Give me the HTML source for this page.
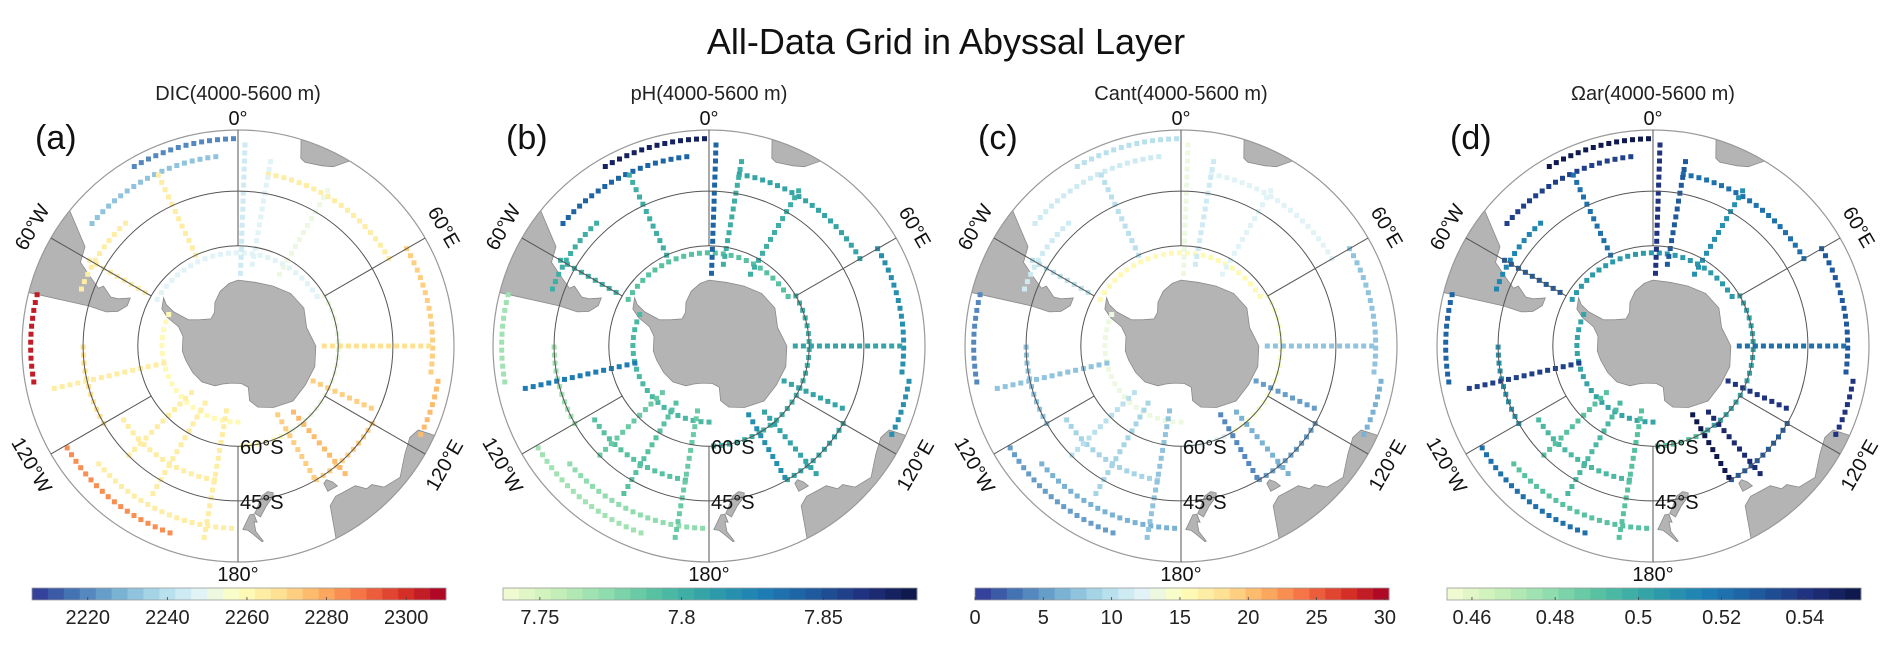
<!DOCTYPE html>
<html><head><meta charset="utf-8"><style>
html,body{margin:0;padding:0;background:#fff;}
svg{display:block;font-family:"Liberation Sans",Arial,sans-serif;}
</style></head><body>
<svg id="fig" width="1892" height="647" viewBox="0 0 1892 647" xmlns="http://www.w3.org/2000/svg">
<text x="946" y="54" text-anchor="middle" font-size="36" fill="#111">All-Data Grid in Abyssal Layer</text>
</svg>
<script>
// ---- shared track geometry (lat, lon1, lon2) and (lon, lat1, lat2) ----
const arcTracks = [[-32,-30,0],[-36,-50,-5],[-42,-70,-40],[-40,10,60],[-35,60,100],[-60,60,150],[-62,-60,60],[-33,100,118],[-32,-100,-75],[-34,-160,-120],[-38,-178,-130],[-50,-170,-120],[-67,-180,-60],[-45,-120,-90],[-45,120,150],[-60,150,180]];
const merTracks = [[-25,-60,-35],[2,-68,-32],[10,-65,-35],[30,-65,-38],[90,-64,-35],[140,-64,-40],[-150,-70,-40],[-170,-70,-35],[-103,-67,-35],[115,-65,-45],[-60,-58,-40],[150,-66,-45],[-135,-70,-45]];
// ---- panel values ----
const dicArc = [2218,2232,2262,2262,2270,2250,2247,2275,2305,2285,2265,2262,2260,2268,2272,2258];
const dicMer = [2262,2245,2248,2250,2268,2275,2263,2262,2266,2272,2264,2270,2264];
const phArc = [7.875,7.84,7.80,7.81,7.82,7.80,7.79,7.82,7.77,7.77,7.775,7.79,7.795,7.77,7.81,7.80];
const phMer = [7.80,7.84,7.80,7.80,7.81,7.81,7.79,7.785,7.83,7.81,7.80,7.82,7.785];
const cantArc = [10,11,11,12,8,15,16,6,4,5,6,9,13,8,5,12];
const cantMer = [10,13,11,12,8,6,9,8,7,5,10,4,10];
const omArc = [0.55,0.535,0.515,0.52,0.53,0.50,0.505,0.54,0.525,0.52,0.49,0.495,0.50,0.51,0.53,0.49];
const omMer = [0.52,0.54,0.53,0.51,0.52,0.545,0.495,0.49,0.535,0.54,0.53,0.55,0.49];
// colorbar tick labels
const dicTicks = [2220,2240,2260,2280,2300];
const phTicks = [7.75,7.8,7.85];
const cantTicks = [0,5,10,15,20,25,30];
const omTicks = [0.46,0.48,0.5,0.52,0.54];
const panelTitles = ["DIC(4000-5600 m)","pH(4000-5600 m)","Cant(4000-5600 m)","\u03A9ar(4000-5600 m)"];
const panelLetters = ["(a)","(b)","(c)","(d)"];

const RdYlBu_r = ["#313695","#4575b4","#74add1","#abd9e9","#e0f3f8","#ffffbf","#fee090","#fdae61","#f46d43","#d73027","#a50026"];
const YlGnBu = ["#f7fcd4","#c7f0b8","#8fdcae","#52bfa0","#2f9fa8","#1d7fb5","#1f5a9e","#20307e","#0d1545"];

const panels = [
 {cx:238, arc:dicArc, mer:dicMer, vmin:2206, vmax:2310, cmap:RdYlBu_r, ticks:dicTicks, key:"dic"},
 {cx:709, arc:phArc, mer:phMer, vmin:7.737, vmax:7.883, cmap:YlGnBu, ticks:phTicks, key:"ph"},
 {cx:1181, arc:cantArc, mer:cantMer, vmin:0, vmax:30.3, cmap:RdYlBu_r, ticks:cantTicks, key:"cant"},
 {cx:1653, arc:omArc, mer:omMer, vmin:0.454, vmax:0.5535, cmap:YlGnBu, ticks:omTicks, key:"omega"}
];

// land polygons (lon, lat)
const antarctica = [[0,-70],[15,-70],[30,-69],[45,-67.5],[60,-67],[75,-68.5],[90,-66.5],[105,-66],[120,-66.5],[135,-66.5],[150,-68.5],[162,-70.5],[168,-73],[166,-77],[175,-78.5],[-170,-78.5],[-158,-77.5],[-150,-76],[-135,-74.5],[-120,-74],[-105,-73.5],[-95,-73],[-80,-73],[-72,-71],[-68,-67],[-64,-64.5],[-57,-63.3],[-60,-65],[-62,-68],[-62,-73],[-55,-76],[-45,-78.3],[-35,-77.5],[-28,-75],[-18,-72.5],[-8,-70.8]];
const samerica = [[-76,-20],[-75,-45],[-75.5,-50],[-74,-53],[-70,-55],[-66,-55],[-68.5,-52],[-69,-50],[-66,-47],[-67.5,-46],[-65,-43],[-62,-39],[-57,-38],[-50,-28],[-45,-20]];
const africa = [[8,-20],[14,-25],[17,-30],[18.5,-34.2],[20,-34.8],[25,-34],[28,-33],[32,-29],[35,-22],[40,-18]];
const australia = [[112,-20],[114,-26],[115,-34],[118,-35],[123,-34],[129,-31.7],[134,-33],[136,-35.5],[138,-35.6],[140,-38],[144,-38.5],[147,-38.8],[150,-37.5],[153,-30],[154,-22]];
const tasmania = [[144.6,-40.7],[148.3,-40.9],[148,-43.2],[146.5,-43.6],[145.2,-42.3]];
const nzSouth = [[166.5,-46],[168.5,-46.7],[171,-45.8],[173.5,-42.5],[174.3,-41.6],[172.5,-40.5],[170,-43],[167,-45]];
const nzNorth = [[174.6,-41.4],[176,-41.3],[178.5,-37.7],[177,-37.5],[175.5,-36.5],[173,-34.4],[172.6,-34.5],[174.5,-37],[174.8,-39.5],[173.8,-39.3]];
const lands = [["antarctica",antarctica],["south-america",samerica],["africa",africa],["australia",australia],["tasmania",tasmania],["nz-south",nzSouth],["nz-north",nzNorth]];

const NS = "http://www.w3.org/2000/svg";
const svg = document.getElementById("fig");
const CY = 346, K = 374, ROUT = 216;
function rad(lat){ return K*Math.tan((90+lat)/2*Math.PI/180); }
function proj(cx, lon, lat){ const r=rad(lat), a=lon*Math.PI/180; return [cx + r*Math.sin(a), CY - r*Math.cos(a)]; }
function mk(tag, attrs, parent){ const e=document.createElementNS(NS,tag); for(const k in attrs) e.setAttribute(k,attrs[k]); (parent||svg).appendChild(e); return e; }
function hex(c){ return [parseInt(c.slice(1,3),16),parseInt(c.slice(3,5),16),parseInt(c.slice(5,7),16)]; }
function color(cmap, t){
  const nb=26; t=Math.max(0,Math.min(0.9999,t)); t=(Math.floor(t*nb)+0.5)/nb;
  const p=t*(cmap.length-1), i=Math.floor(p), f=p-i;
  const a=hex(cmap[i]), b=hex(cmap[Math.min(i+1,cmap.length-1)]);
  return "rgb("+a.map((v,k)=>Math.round(v+(b[k]-v)*f)).join(",")+")";
}

panels.forEach((P,pi)=>{
  const cx=P.cx;
  const g=mk("g",{});
  
  
  const cp=mk("clipPath",{id:"clip"+pi},g);
  mk("circle",{cx:cx,cy:CY,r:ROUT},cp);
  const tt=mk("text",{x:cx,y:100,"text-anchor":"middle","font-size":20,fill:"#222"},g); tt.textContent=panelTitles[pi];
  
  
  const lt=mk("text",{x:cx-203,y:149,"font-size":34,fill:"#111"},g); lt.textContent=panelLetters[pi];
  
  
  const lg=mk("g",{"clip-path":"url(#clip"+pi+")"},g);
  lands.forEach(([nm,poly])=>{
    const pts=poly.map(p=>proj(cx,p[0],p[1]).map(v=>v.toFixed(1)).join(",")).join(" ");
    const pl=mk("polygon",{points:pts,fill:"#b4b4b4",stroke:"#8a8a8a","stroke-width":0.8},lg);
    
    
  });
  const dg=mk("g",{"clip-path":"url(#clip"+pi+")"},g);
  
  
  const span=P.vmax-P.vmin;
  arcTracks.forEach((tr,i)=>{
    const [lat,l1,l2]=tr, r=rad(lat), step=8/r*180/Math.PI;
    const c=color(P.cmap,(P.arc[i]-P.vmin)/span);
    for(let lon=l1; lon<=l2+0.01; lon+=step){
      const [x,y]=proj(cx,lon,lat);
      const s=mk("rect",{x:(x-2.5).toFixed(1),y:(y-2.5).toFixed(1),width:5,height:5,fill:c},dg);
      
      
    }
  });
  merTracks.forEach((tr,i)=>{
    const [lon,a1,a2]=tr;
    const c=color(P.cmap,(P.mer[i]-P.vmin)/span);
    let lat=a1;
    while(lat<=a2+0.01){
      const [x,y]=proj(cx,lon,lat);
      const s=mk("rect",{x:(x-2.5).toFixed(1),y:(y-2.5).toFixed(1),width:5,height:5,fill:c},dg);
      
      
      const dr=rad(lat+1)-rad(lat);
      lat+=8/dr;
    }
  });
  [-60,-45].forEach(lat=>{
    const c=mk("circle",{cx:cx,cy:CY,r:rad(lat),fill:"none",stroke:"#555","stroke-width":1},g);
    
    
  });
  const oc=mk("circle",{cx:cx,cy:CY,r:ROUT,fill:"none",stroke:"#999","stroke-width":1.2},g);
  
  
  [0,60,120,180,-120,-60].forEach(lon=>{
    const [x1,y1]=proj(cx,lon,-60), [x2,y2]=proj(cx,lon,-30);
    const l=mk("line",{x1:x1,y1:y1,x2:x2,y2:y2,stroke:"#555","stroke-width":1},g);
    
    
  });
  const labs=[[0,"0°",0],[60,"60°E",60],[120,"120°E",-60],[180,"180°",0],[-120,"120°W",60],[-60,"60°W",-60]];
  labs.forEach(([lon,txt,rot])=>{
    const rr=(lon===0||lon===180)?ROUT+12:ROUT+22;
    const a=lon*Math.PI/180, x=cx+rr*Math.sin(a), y=CY-rr*Math.cos(a);
    const t=mk("text",{x:x,y:y+7,"text-anchor":"middle","font-size":20,fill:"#111",transform:"rotate("+rot+" "+x+" "+y+")"},g);
    t.textContent=txt;
    
    
  });
  [[-60,"60°S"],[-45,"45°S"]].forEach(([lat,txt])=>{
    const t=mk("text",{x:cx+2,y:CY+rad(lat)+8,"font-size":20,fill:"#111"},g);
    t.textContent=txt;
    
    
  });
  const bx=cx-206, bw=414, by=588, bh=12, nb=26;
  const cb=mk("g",{},g);
  
  
  for(let k=0;k<nb;k++){
    mk("rect",{x:(bx+k*bw/nb).toFixed(2),y:by,width:(bw/nb+0.4).toFixed(2),height:bh,fill:color(P.cmap,(k+0.5)/nb)},cb);
  }
  mk("rect",{x:bx,y:by,width:bw,height:bh,fill:"none",stroke:"#999","stroke-width":0.8},cb);
  P.ticks.forEach(v=>{
    const x=bx+(v-P.vmin)/span*bw;
    mk("line",{x1:x,y1:by+bh,x2:x,y2:by+bh-3,stroke:"#444","stroke-width":0.8},cb);
    const t=mk("text",{x:x,y:624,"text-anchor":"middle","font-size":20,fill:"#222"},cb);
    t.textContent=String(v);
    
    
  });
});
</script>
</body></html>
